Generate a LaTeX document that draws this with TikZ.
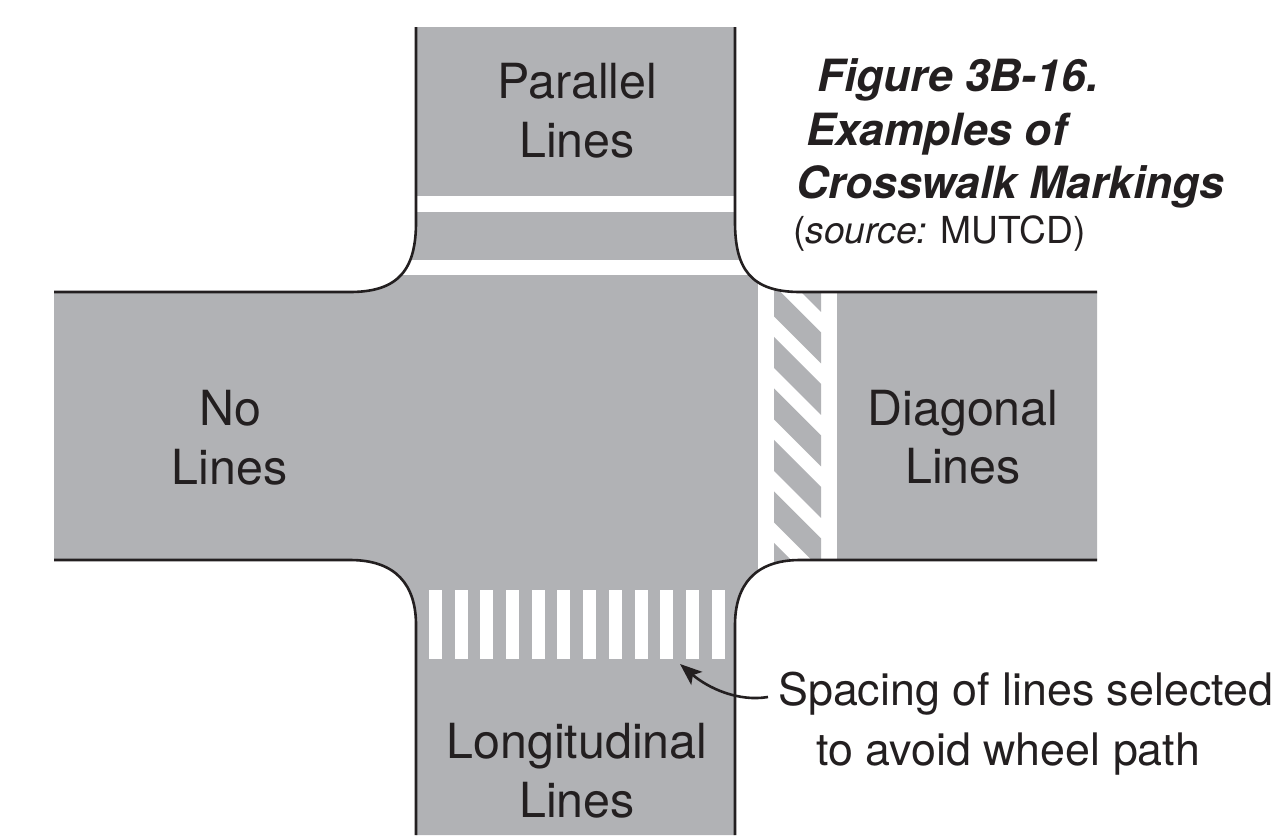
\documentclass[tikz,border=0pt]{standalone}
\usepackage{fontspec}
\setmainfont{TeX Gyre Heros}
\usetikzlibrary{arrows.meta}
\definecolor{roadgray}{HTML}{B1B2B5}
\definecolor{ink}{HTML}{231F20}
\newcommand{\roadoutline}{(416,27) -- (416,222) .. controls (416,268) and (400,292) .. (350,292) -- (54,292) -- (54,560) -- (350,560) .. controls (396,560) and (416,585) .. (416,625) -- (416,835) -- (735,835) -- (735,625) .. controls (735,585) and (755,560) .. (800,560) -- (1097,560) -- (1097,292) -- (800,292) .. controls (750,292) and (735,268) .. (735,222) -- (735,27) -- cycle}
\tikzset{
  x=1pt,y=-1pt,
  curb/.style={draw=ink,line width=2.6pt},
  lbl/.style={anchor=base,inner sep=0pt,text=ink,font=\fontsize{48.4}{50}\selectfont},
  note/.style={anchor=base west,inner sep=0pt,text=ink,font=\fontsize{44.8}{46}\selectfont},
  ttl/.style={anchor=base west,inner sep=0pt,text=ink,font=\fontsize{44.4}{46}\selectfont\bfseries\itshape},
  src/.style={anchor=base west,inner sep=0pt,text=ink,font=\fontsize{37.2}{39}\selectfont},
  leader/.style={draw=ink,line width=2.6pt,-{Stealth[length=22pt,width=17pt,inset=5pt]}},
}
\begin{document}
\begin{tikzpicture}
\useasboundingbox (0,0) rectangle (1281,835);
\fill[white] (0,0) rectangle (1281,835);
\fill[roadgray] \roadoutline;
\begin{scope}
  \clip \roadoutline;
  % parallel lines
  \fill[white] (400,196) rectangle (750,212);
  \fill[white] (400,260) rectangle (750,275);
  % diagonal lines
  \fill[white] (758,280) rectangle (836.5,580);
  \begin{scope}
    \clip (774,280) rectangle (821,580);
    \foreach \k in {-1,0,1,2,3,4,5}{
      \pgfmathsetmacro{\ya}{285.3+51.5*\k}
      \fill[roadgray] (774,\ya) -- (821,\ya+47) -- (821,\ya+78) -- (774,\ya+31) -- cycle;
    }
  \end{scope}
  % longitudinal lines
  \foreach \xa/\xb in {429/442,455/468,480/493,506/519,532/545,557/570,583/596,609/622,635/648,660/673,686/699,712/725}{
    \fill[white] (\xa,590) rectangle (\xb,659);
  }
\end{scope}
\draw[curb] (416,27) -- (416,222) .. controls (416,268) and (400,292) .. (350,292) -- (54,292);
\draw[curb] (54,560) -- (350,560) .. controls (396,560) and (416,585) .. (416,625) -- (416,835);
\draw[curb] (735,835) -- (735,625) .. controls (735,585) and (755,560) .. (800,560) -- (1097,560);
\draw[curb] (1097,292) -- (800,292) .. controls (750,292) and (735,268) .. (735,222) -- (735,27);
\node[lbl] (parallelA) at (577.5,98) {Parallel};
\node[lbl] (parallelB) at (577,157) {Lines};
\node[lbl] (noA) at (230,425) {No};
\node[lbl] (noB) at (229.5,484) {Lines};
\node[lbl] (diagA) at (963,425) {Diagonal};
\node[lbl] (diagB) at (963,483) {Lines};
\node[lbl] (longA) at (577,758) {Longitudinal};
\node[lbl] (longB) at (577,817) {Lines};
\node[ttl] (titleA) at (817,91) {Figure 3B-16.};
\node[ttl] (titleB) at (806,145) {Examples of};
\node[ttl] (titleC) at (796,198) {Crosswalk Markings};
\node[src] (source) at (793,243) {(\textit{source:} MUTCD)};
\node[note] (spacingA) at (778,705) {Spacing of lines selected};
\node[note] (spacingB) at (816,765) {to avoid wheel path};
\coordinate (leadstart) at (768,697);
\coordinate (leadend) at (680,664);
\draw[leader] (leadstart) .. controls (738,702) and (708,688) .. (leadend);
\end{tikzpicture}
\end{document}
